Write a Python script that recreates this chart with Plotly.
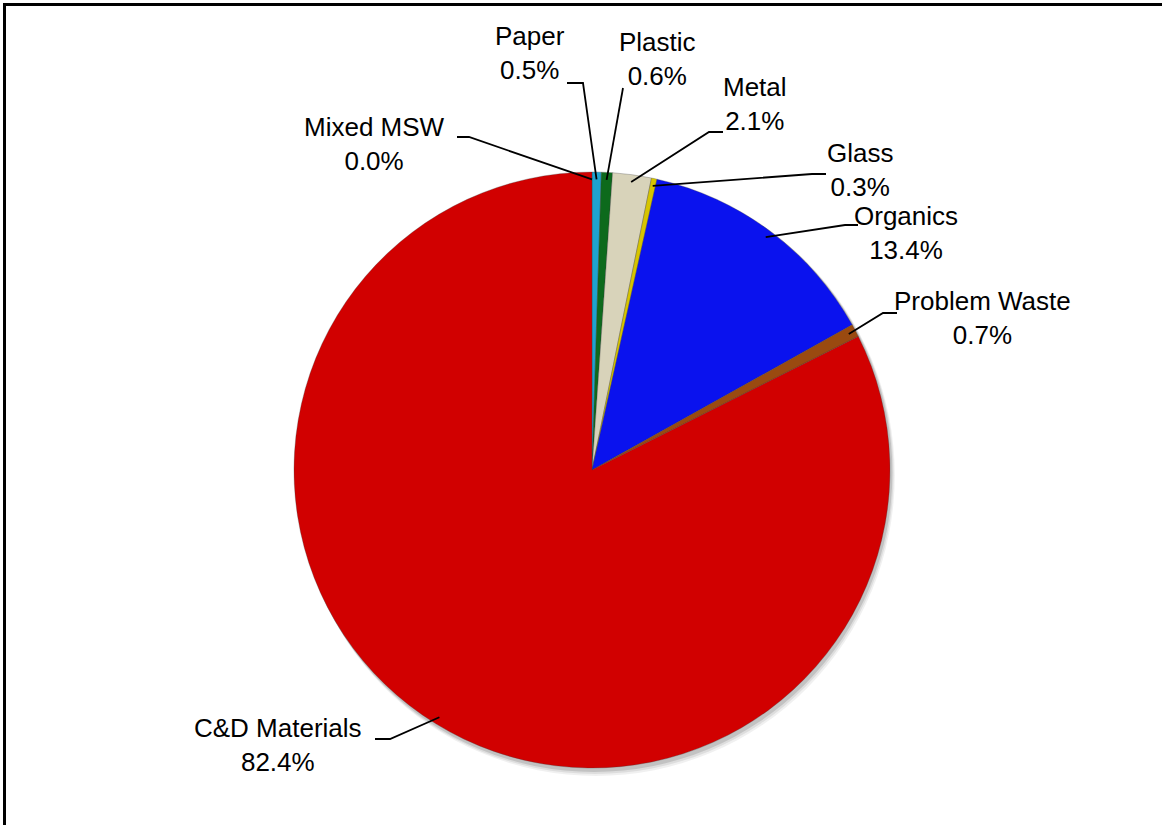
import math
import plotly.graph_objects as go

# ---- data ----
categories = ["Mixed MSW", "Paper", "Plastic", "Metal", "Glass", "Organics", "Problem Waste", "C&D Materials"]
shares = [0.0, 0.5, 0.6, 2.1, 0.3, 13.4, 0.7, 82.4]

# ---- styles ----
colors = ["#1FA3CF", "#1FA3CF", "#0D6A1C", "#D8D3BA", "#D6C400", "#0A12EE", "#9A4A10", "#D10000"]
W, H = 1162, 825
CX, CY, R = 592, 470, 298  # pie centre / radius in pixels
FONT = "Liberation Sans, Arial, sans-serif"

# label layout (pixels): text centre, start of leader, elbow of leader
label_layout = {
    "Mixed MSW": dict(t=(374, 144), s=(457, 137), e=(469, 137)),
    "Paper": dict(t=(530, 53), s=(567, 83), e=(583, 83)),
    "Plastic": dict(t=(657, 59), s=(623, 88), e=(623, 88)),
    "Metal": dict(t=(755, 104), s=(723, 132), e=(709, 132)),
    "Glass": dict(t=(860, 170), s=(826, 174), e=(812, 174)),
    "Organics": dict(t=(906, 233), s=(858, 225), e=(845, 225)),
    "Problem Waste": dict(t=(982, 318), s=(897, 313), e=(883, 313)),
    "C&D Materials": dict(t=(278, 745), s=(375, 739), e=(390, 739)),
}


def px(x):
    return x / W


def py(y):
    return 1 - y / H


fig = go.Figure()

fig.add_trace(go.Pie(
    labels=categories,
    values=shares,
    sort=False,
    direction="clockwise",
    rotation=0,
    marker=dict(colors=colors, line=dict(color="rgba(60,60,60,0.5)", width=0.6)),
    textinfo="none",
    hoverinfo="label+percent",
    showlegend=False,
    domain=dict(x=[px(CX - R), px(CX + R)], y=[py(CY + R), py(CY - R)]),
))

shapes = []
# soft shadow under the pie
for off, alpha in [(8, 0.06), (6, 0.08), (4, 0.12)]:
    shapes.append(dict(type="circle", xref="paper", yref="paper", layer="below",
                       x0=px(CX - R + off * 0.4), x1=px(CX + R + off * 0.6),
                       y0=py(CY + R + off), y1=py(CY - R + off * 0.3),
                       fillcolor=f"rgba(0,0,0,{alpha})", line=dict(width=0)))

annotations = []
total = sum(shares)
cum = 0.0
for cat, v in zip(categories, shares):
    mid = (cum + v / 2) / total * 2 * math.pi
    cum += v
    ax = CX + R * 0.975 * math.sin(mid)
    ay = CY - R * 0.975 * math.cos(mid)
    lay = label_layout[cat]
    sx, sy = lay["s"]
    ex, ey = lay["e"]
    path = f"M {px(sx)} {py(sy)} L {px(ex)} {py(ey)} L {px(ax)} {py(ay)}"
    shapes.append(dict(type="path", xref="paper", yref="paper", path=path,
                       line=dict(color="black", width=1.8)))
    tx, ty = lay["t"]
    annotations.append(dict(x=px(tx), y=py(ty), xref="paper", yref="paper",
                            text=f"{cat}<br>{v:.1f}%", showarrow=False,
                            xanchor="center", yanchor="middle", align="center",
                            font=dict(family=FONT, size=26, color="black")))

# chart frame (right/bottom edges run off the picture)
shapes.append(dict(type="path", xref="paper", yref="paper",
                   path=f"M {px(4.5)} {py(830)} L {px(4.5)} {py(4.5)} L {px(1170)} {py(4.5)}",
                   line=dict(color="black", width=3)))

fig.update_layout(
    width=W, height=H,
    margin=dict(l=0, r=0, t=0, b=0),
    paper_bgcolor="white",
    plot_bgcolor="white",
    shapes=shapes,
    annotations=annotations,
)

fig.write_html("out.html")
